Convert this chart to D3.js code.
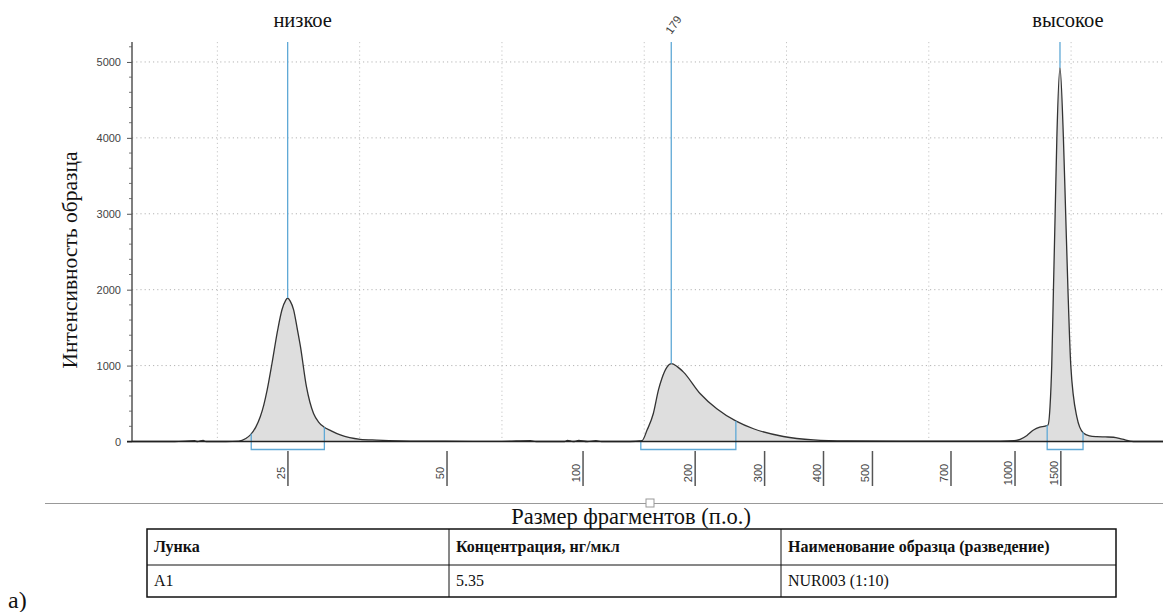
<!DOCTYPE html>
<html><head><meta charset="utf-8">
<script src="https://cdn.jsdelivr.net/npm/d3@7/dist/d3.min.js"></script>
<style>html,body{margin:0;padding:0;background:#fff;}svg{display:block;}</style>
</head><body><svg id="chart" width="1163" height="612"></svg>
<script>
// ---- data ----
// electropherogram trace: migration time (s) and intensity
const traceTime = [37.0,38.5,39.2,39.3,39.5,39.6,40.3,40.75,41.0,41.16,41.35,41.51,41.63,41.75,41.92,42.12,42.27,42.40,42.47,42.56,42.68,42.80,42.92,43.13,43.25,43.38,43.55,43.73,44.0,44.32,44.65,45.02,45.6,46.43,47.5,48.0,50.0,51.0,51.2,52.2,52.3,52.5,52.7,53.0,53.3,53.5,54.5,54.92,55.10,55.32,55.50,55.62,55.80,55.95,56.15,56.38,56.97,57.55,58.23,58.84,59.89,60.95,62.12,64.0,66.5,67.51,68.0,68.21,68.45,68.68,68.90,69.09,69.19,69.26,69.32,69.38,69.44,69.50,69.61,69.73,69.81,69.89,69.99,70.20,70.43,70.65,70.90,71.2,71.49,71.8,72.19,73.23];
const traceIntensity = [0,0,12,0,14,0,0,5,40,87,190,329,480,680,1031,1471,1735,1860,1889,1850,1735,1500,1250,722,520,370,260,195,140,86,50,29,18,8,4,3,2,12,0,0,14,0,13,0,12,0,0,10,150,369,680,831,980,1025,990,914,629,431,268,168,66,22,8,4,3,5,12,29,80,152,190,204,218,460,1000,2000,3000,4000,4924,4000,3000,2000,1000,327,112,75,64,60,56,30,0,0];
// size ladder (bp) and its migration times
const ladderSizes = [25,50,100,200,300,400,500,700,1000,1500];
const ladderTimes = [42.48,48.07,52.85,56.79,59.23,61.30,63.02,65.78,68.03,69.64];
// peak markers
const markerLabels = ["низкое","179","высокое"];
const markerTimes = [42.47,55.95,69.61];
// integration regions
const regionStart = [41.19,54.88,69.16];
const regionEnd = [43.76,58.22,70.42];
// y ticks
const yTicks = [0,1000,2000,3000,4000,5000];
const gridTimes = [40,45,50,55,60,65,70];
// table
const tableHeaders = ["Лунка","Концентрация, нг/мкл","Наименование образца (разведение)"];
const tableRow = ["A1","5.35","NUR003 (1:10)"];
const yTitle = "Интенсивность образца";
const xTitle = "Размер фрагментов (п.о.)";
const panelLabel = "а)";

// ---- drawing ----
const svg = d3.select("#chart");
const serif = "'Liberation Serif','Times New Roman',serif";
const sans = "'Liberation Sans',Arial,sans-serif";
const blue = "#5fa9d6";
const x = d3.scaleLinear().domain([37.0, 73.23]).range([132, 1163]);
const y = d3.scaleLinear().domain([0, 5263]).range([441.5, 42]);
const data = traceTime.map((t,i)=>({t, v: traceIntensity[i]}));
const interp = t => {
  const i = d3.bisector(d=>d.t).left(data, t);
  if (i<=0) return data[0].v;
  if (i>=data.length) return data[data.length-1].v;
  const a=data[i-1], b=data[i];
  return a.v + (b.v-a.v)*(t-a.t)/(b.t-a.t);
};

// grid
const g = svg.append("g");
g.selectAll(".hg").data(yTicks.filter(d=>d>0)).join("line")
  .attr("x1",132).attr("x2",1163).attr("y1",d=>y(d)).attr("y2",d=>y(d))
  .attr("stroke","#b5b5b5").attr("stroke-dasharray","1.2,3");
g.selectAll(".vg").data(gridTimes).join("line")
  .attr("x1",d=>x(d)).attr("x2",d=>x(d)).attr("y1",y(5263)).attr("y2",y(0))
  .attr("stroke","#c5c5c5").attr("stroke-dasharray","1.2,3");

// trace
const area = d3.area().x(d=>x(d.t)).y0(y(0)).y1(d=>y(d.v)).curve(d3.curveMonotoneX);
const line = d3.line().x(d=>x(d.t)).y(d=>y(d.v)).curve(d3.curveMonotoneX);
svg.append("path").datum(data).attr("d",area).attr("fill","#dedede");
svg.append("path").datum(data).attr("d",line).attr("fill","none").attr("stroke","#333").attr("stroke-width",1.3);

// marker lines
markerTimes.forEach((t,i)=>{
  svg.append("line").attr("x1",x(t)).attr("x2",x(t)).attr("y1",y(5263)).attr("y2",y(interp(t)))
    .attr("stroke",blue).attr("stroke-width",1.3);
});
// region brackets
regionStart.forEach((s,i)=>{
  const e = regionEnd[i];
  const by = y(0)+8;
  svg.append("path")
    .attr("d",`M${x(s)},${y(interp(s))}L${x(s)},${by}L${x(e)},${by}L${x(e)},${y(interp(e))}`)
    .attr("fill","none").attr("stroke",blue).attr("stroke-width",1.3);
});

// y axis
const yAxis = d3.axisLeft(y).tickValues(yTicks).tickSize(5).tickFormat(d3.format("d"));
const ya = svg.append("g").attr("transform","translate(132,0)").call(yAxis);
ya.select(".domain").remove();
ya.selectAll("text").attr("font-family",sans).attr("font-size",11).attr("fill","#444").attr("x",-11);
ya.selectAll("line").attr("stroke","#555");
const minor = d3.range(0,5263,200).filter(v=>v%1000!==0);
svg.selectAll(".mt").data(minor).join("line")
  .attr("x1",129).attr("x2",132).attr("y1",d=>y(d)).attr("y2",d=>y(d)).attr("stroke","#777");
svg.append("line").attr("x1",132).attr("x2",132).attr("y1",y(5263)).attr("y2",y(0)).attr("stroke","#555").attr("stroke-width",1.5);

// x baseline
svg.append("line").attr("x1",127).attr("x2",1163).attr("y1",y(0)).attr("y2",y(0)).attr("stroke","#222").attr("stroke-width",1.5);

// ladder ticks
const xt = svg.append("g");
ladderSizes.forEach((s,i)=>{
  const px = x(ladderTimes[i]);
  xt.append("line").attr("x1",px).attr("x2",px).attr("y1",451).attr("y2",486).attr("stroke","#555").attr("stroke-width",1.5);
  xt.append("text").attr("transform",`translate(${px-3},473) rotate(-90)`)
    .attr("text-anchor","middle").attr("font-family",sans).attr("font-size",11).attr("fill","#444").text(s);
});

// marker labels
const labelDx = [15, 0, 8];
markerTimes.forEach((t,i)=>{
  if (i===1) {
    svg.append("text").attr("transform",`translate(${x(t)},35) rotate(-55)`)
      .attr("font-family",sans).attr("font-size",11.5).attr("fill","#444").text(markerLabels[i]);
  } else {
    svg.append("text").attr("x",x(t)+labelDx[i]).attr("y",27).attr("text-anchor","middle")
      .attr("font-family",serif).attr("font-size",20.5).attr("fill","#111").text(markerLabels[i]);
  }
});

// y title
svg.append("text").attr("transform","translate(77,260) rotate(-90)").attr("text-anchor","middle")
  .attr("font-family",serif).attr("font-size",21.5).attr("fill","#111").text(yTitle);

// separator + handle
svg.append("line").attr("x1",45).attr("x2",1163).attr("y1",503.5).attr("y2",503.5).attr("stroke","#999");
svg.append("rect").attr("x",646).attr("y",499).attr("width",8).attr("height",8).attr("fill","#fff").attr("stroke","#999");

// x title
svg.append("text").attr("x",631).attr("y",524).attr("text-anchor","middle")
  .attr("font-family",serif).attr("font-size",22.5).attr("fill","#111").text(xTitle);

// table
const colX = [147,449,781,1116];
const rowY = [529,565,597];
const tb = svg.append("g");
tb.append("rect").attr("x",colX[0]).attr("y",rowY[0]).attr("width",colX[3]-colX[0]).attr("height",rowY[2]-rowY[0])
  .attr("fill","none").attr("stroke","#111").attr("stroke-width",1.5);
tb.append("line").attr("x1",colX[0]).attr("x2",colX[3]).attr("y1",rowY[1]).attr("y2",rowY[1]).attr("stroke","#111").attr("stroke-width",1);
[colX[1],colX[2]].forEach(cx=>tb.append("line").attr("x1",cx).attr("x2",cx).attr("y1",rowY[0]).attr("y2",rowY[2]).attr("stroke","#111").attr("stroke-width",1));
tableHeaders.forEach((h,i)=>tb.append("text").attr("x",colX[i]+7).attr("y",552)
  .attr("font-family",serif).attr("font-weight","bold").attr("font-size",16).attr("fill","#111").text(h));
tableRow.forEach((h,i)=>tb.append("text").attr("x",colX[i]+7).attr("y",586)
  .attr("font-family",serif).attr("font-size",16).attr("fill","#111").text(h));

// panel label
svg.append("text").attr("x",8).attr("y",608).attr("font-family",serif).attr("font-size",24).attr("fill","#111").text(panelLabel);
</script></body></html>
